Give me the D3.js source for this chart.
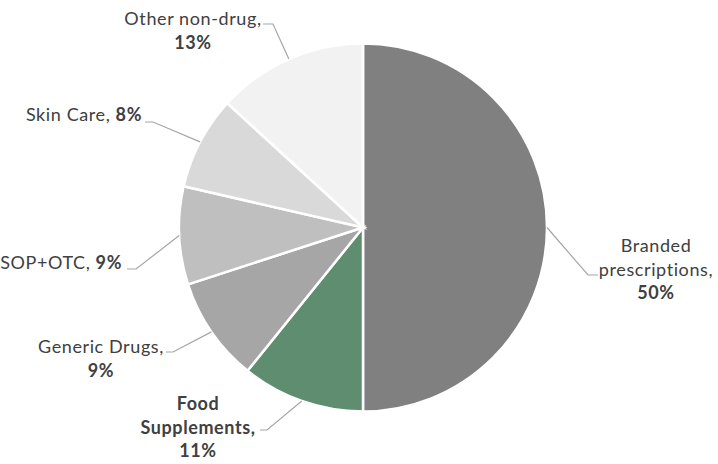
<!DOCTYPE html>
<html>
<head>
<meta charset="utf-8">
<script src="https://cdn.jsdelivr.net/npm/d3@7"></script>
<style>
	body { margin: 0; background: #fff; }
	svg text { font-family: Lato, "Open Sans", sans-serif; font-size: 18px; fill: #404040; letter-spacing: 0.6px; }
	.leader { fill: none; stroke: #a6a6a6; stroke-width: 1.2; }
</style>
</head>
<body>
<div id="chart"></div>
<script>
var categories = ["Branded prescriptions", "Food Supplements", "Generic Drugs", "SOP+OTC", "Skin Care", "Other non-drug"];
var values = [50, 10.8, 9.2, 8.6, 8.2, 13.2];
var colors = ["#808080", "#5f8d6f", "#a6a6a6", "#bfbfbf", "#d9d9d9", "#f2f2f2"];

// how each label is broken into lines; null = the percentage
var labelLines = [
	[["Branded"], ["prescriptions,"], [null]],
	[["Food"], ["Supplements,"], [null]],
	[["Generic Drugs,"], [null]],
	[["SOP+OTC, ", null]],
	[["Skin Care, ", null]],
	[["Other non-drug,"], [null]]
];
var boldAll = [false, true, false, false, false, false];

// label placement (first baseline), leader elbow and leader end
var labelLayout = [
	{x: 656, y: 252, anchor: "middle", elbow: [588, 275], end: [598, 275]},
	{x: 198, y: 410, anchor: "middle", elbow: [267, 430], end: [260, 430]},
	{x: 101, y: 353, anchor: "middle", elbow: [173, 352], end: [166, 352]},
	{x: 122, y: 269, anchor: "end", elbow: [136, 269], end: [127, 269]},
	{x: 142, y: 121, anchor: "end", elbow: [153, 122], end: [145, 122]},
	{x: 193, y: 25, anchor: "middle", elbow: [273, 24], end: [263, 24]}
];

var width = 718, height = 464;
var cx = 363, cy = 227.5, radius = 184;
var lineGap = 23.5;
var PCTFMT = d3.format(".0f");
var total = d3.sum(values);

var svg = d3.select("#chart")
	.append("svg")
	.attr("width", width)
	.attr("height", height);

var pie = d3.pie()
	.sort(null)
	.value(function(d) { return d; });

var arc = d3.arc()
	.innerRadius(0)
	.outerRadius(radius);

var arcs = pie(values);

var g = svg.append("g")
	.attr("transform", "translate(" + cx + "," + cy + ")");

g.selectAll(".slice")
	.data(arcs)
	.enter()
	.append("path")
	.attr("class", "slice")
	.attr("d", arc)
	.style("fill", function(d, i) { return colors[i]; })
	.style("stroke", "#fff")
	.style("stroke-width", 2.5);

// leader lines from slice edge (mid angle) to the label
svg.selectAll(".leader")
	.data(arcs)
	.enter()
	.append("polyline")
	.attr("class", "leader")
	.attr("points", function(d, i) {
		var a = (d.startAngle + d.endAngle) / 2;
		var p0 = [cx + Math.sin(a) * radius, cy - Math.cos(a) * radius];
		var lay = labelLayout[i];
		return [p0, lay.elbow, lay.end].map(function(p) { return p.join(","); }).join(" ");
	});

// labels
arcs.forEach(function(d, i) {
	var lay = labelLayout[i];
	var pct = PCTFMT(values[i] / total * 100) + "%";
	var text = svg.append("text")
		.attr("text-anchor", lay.anchor)
		.style("font-weight", boldAll[i] ? "bold" : "normal");

	labelLines[i].forEach(function(line, j) {
		line.forEach(function(seg, k) {
			var t = text.append("tspan")
				.text(seg === null ? pct : seg);
			if (k === 0) {
				t.attr("x", lay.x).attr("y", lay.y + j * lineGap);
			}
			if (seg === null) t.style("font-weight", "bold");
		});
	});
});
</script>
</body>
</html>
